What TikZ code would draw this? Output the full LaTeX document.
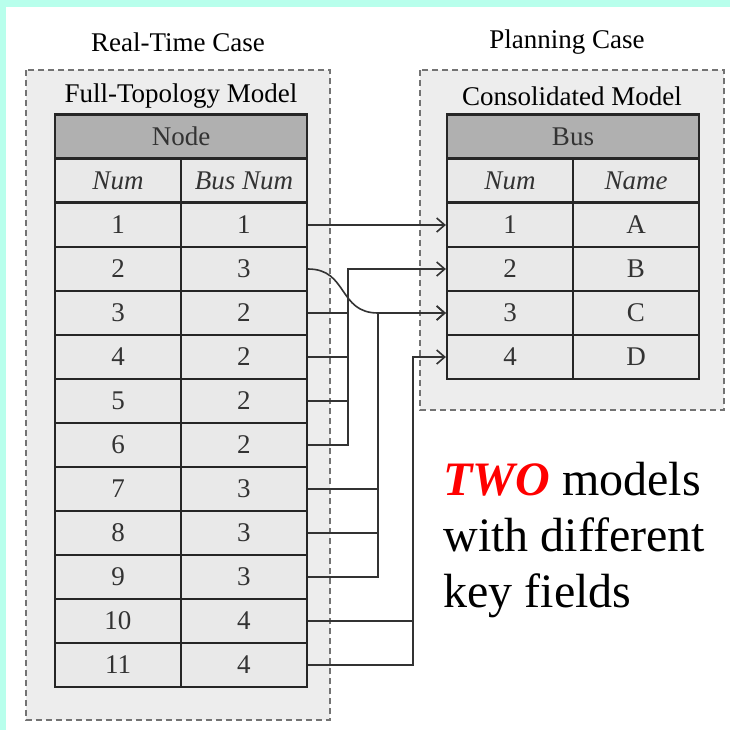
\documentclass[tikz,border=0pt]{standalone}
\usepackage{fontspec}
\setmainfont{Liberation Serif}
\usetikzlibrary{arrows.meta}
\definecolor{bandcyan}{RGB}{184,255,236}
\definecolor{boxgray}{RGB}{237,237,237}
\definecolor{cellgray}{RGB}{233,233,233}
\definecolor{headgray}{RGB}{176,176,176}
\begin{document}
\begin{tikzpicture}
[x=0.5pt,y=-0.5pt,
  cellDecorate/.style={draw=black!85,line width=1.1pt,fill=cellgray,
    minimum width=63pt,minimum height=22pt,inner sep=0pt,
    font=\fontsize{13.5}{16}\selectfont,text=black!80},
  headDecorate/.style={cellDecorate,fill=headgray,minimum width=126pt},
  fieldDecorate/.style={cellDecorate,font=\fontsize{13.5}{16}\selectfont\itshape},
  boxDecorate/.style={draw=black!55,line width=0.6pt,dash pattern=on 3pt off 2pt,fill=boxgray},
  titleDecorate/.style={font=\fontsize{13.5}{16}\selectfont,inner sep=0pt},
  linkDecorate/.style={draw=black!80,line width=0.8pt},
  arrowDecorate/.style={linkDecorate,-{Straight Barb[length=4pt,width=7pt]}}]
%% frame
\useasboundingbox (0,0) rectangle (730,730);
\fill[bandcyan] (0,0) rectangle (730,6.5);
\fill[bandcyan] (0,0) rectangle (6,730);
%% dashed model boxes
\draw[boxDecorate] (26,70) rectangle (330,720);
\draw[boxDecorate] (420,70) rectangle (724,410);
\node (rtcase) at (178,42) [titleDecorate] {Real-Time Case};
\node (plcase) at (567,42) [titleDecorate] {Planning Case};
\node (ftmodel) at (181,96) [titleDecorate] {Full-Topology Model};
\node (cmodel) at (572,96) [titleDecorate] {Consolidated Model};
%% node table
\node (nodehdr) at (181,136.5) [headDecorate] {Node};
\node (lnum) at (118,180.5) [fieldDecorate] {Num};
\node (lbus) at (244,180.5) [fieldDecorate] {Bus Num};
\foreach \num/\bus in {1/1, 2/3, 3/2, 4/2, 5/2, 6/2, 7/3, 8/3, 9/3, 10/4, 11/4}
{
  \node (n\num) at (118,{181+44*\num}) [cellDecorate] {\num};
  \node (nb\num) at (244,{181+44*\num}) [cellDecorate] {\bus};
}
%% bus table
\node (bushdr) at (573,136.5) [headDecorate] {Bus};
\node (rnum) at (510,180.5) [fieldDecorate] {Num};
\node (rname) at (636,180.5) [fieldDecorate] {Name};
\foreach \num/\name in {1/A, 2/B, 3/C, 4/D}
{
  \node (b\num) at (510,{181+44*\num}) [cellDecorate] {\num};
  \node (bn\num) at (636,{181+44*\num}) [cellDecorate] {\name};
}
%% junctions
\coordinate (j2) at (348,0);
\coordinate (j3) at (378,0);
\coordinate (j4) at (413,0);
%% links
\draw[arrowDecorate] (nb1.east) -- (b1.west);
\foreach \k in {3,4,5}
{
  \draw[linkDecorate] (nb\k.east) -- (nb\k.east -| j2);
}
\draw[arrowDecorate] (nb6.east) -- (nb6.east -| j2) |- (b2.west);
\foreach \k in {7,8}
{
  \draw[linkDecorate] (nb\k.east) -- (nb\k.east -| j3);
}
\draw[arrowDecorate] (nb9.east) -- (nb9.east -| j3) |- (b3.west);
\draw[arrowDecorate] (nb2.east) .. controls +(40,0) and +(-40,0) .. (b3.west -| j3) -- (b3.west);
\draw[linkDecorate] (nb10.east) -- (nb10.east -| j4);
\draw[arrowDecorate] (nb11.east) -- (nb11.east -| j4) |- (b4.west);
%% note
\node (keytext) at (443,462) [anchor=north west,align=left,inner sep=0pt,
  font=\fontsize{24}{28}\selectfont]
  {\textcolor{red}{\textbf{\textit{TWO}}} models\\with different\\key fields};
\end{tikzpicture}
\end{document}
